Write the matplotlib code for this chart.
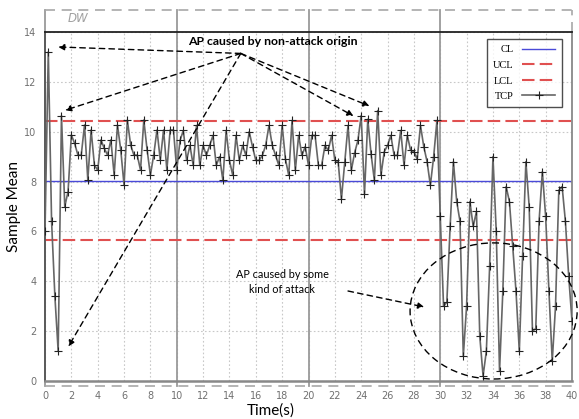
import numpy as np
import matplotlib.pyplot as plt
from matplotlib.patches import Ellipse

# TCP sample mean, one value every 0.25 s (0 .. 40 s)
tcp = [
    6.0, 13.2, 6.4, 3.4, 1.2, 10.65, 7.0, 7.6,
    9.87, 9.53, 9.06, 9.06, 10.27, 8.06, 10.07, 8.66,
    8.46, 9.67, 9.33, 9.06, 9.67, 8.26, 10.27, 9.27,
    7.86, 10.47, 9.47, 9.06, 9.06, 8.46, 10.47, 9.27,
    8.26, 9.06, 10.07, 8.86, 10.07, 8.46, 10.07, 10.07,
    8.46, 9.65, 10.05, 8.85, 9.45, 8.65, 10.25, 8.65,
    9.45, 9.05, 9.45, 9.85, 8.65, 9.0, 8.05, 10.05,
    8.85, 8.25, 9.85, 8.85, 9.45, 9.05, 10.0, 9.4,
    8.85, 8.85, 9.05, 9.45, 10.25, 9.45, 9.05, 8.65,
    10.25, 8.9, 8.25, 10.45, 8.45, 9.85, 9.05, 9.4,
    8.65, 9.85, 9.85, 8.65, 8.65, 9.45, 9.25, 9.85,
    8.85, 8.8, 7.3, 8.8, 10.25, 8.45, 9.15, 9.65,
    10.65, 7.5, 10.5, 9.1, 8.05, 10.85, 8.25, 9.2,
    9.45, 9.85, 9.05, 9.05, 10.05, 8.65, 9.85, 9.25,
    9.2, 8.9, 10.25, 9.4, 8.8, 7.85, 9.0, 10.45,
    6.6, 3.0, 3.16, 6.2, 8.8, 7.2, 6.4, 1.0,
    3.0, 7.2, 6.2, 6.8, 1.8, 0.2, 1.2, 4.6,
    9.0, 6.0, 0.4, 3.6, 7.8, 7.2, 5.4, 3.6,
    1.2, 5.0, 8.8, 7.0, 2.0, 2.1, 6.4, 8.4,
    6.6, 3.6, 0.8, 3.0, 7.65, 7.8, 6.4, 4.2,
    2.4,
]
dt = 0.25
cl = 8.03
ucl = 10.42
lcl = 5.64

x_ticks = list(range(0, 41, 2))
y_ticks = list(range(0, 15, 2))
window_edges = [10, 20, 30]

W, H = 579, 419
fig = plt.figure(figsize=(W / 100, H / 100), dpi=100)
ax = fig.add_axes([45 / W, 1 - 381 / H, 527 / W, 349 / H])

t = np.arange(len(tcp)) * dt

# grid
for xv in x_ticks:
    ax.axvline(xv, color='#c8c8c8', lw=0.8, ls=(0, (1.5, 2)), zorder=0)
for yv in y_ticks:
    ax.axhline(yv, color='#c8c8c8', lw=0.8, ls=(0, (1.5, 2)), zorder=0)

# detection window frame (DW)
top_f = (381 - 10) / 349
bot_f = -5 / 349
for xv in window_edges:
    ax.axvline(xv, ymin=bot_f, ymax=top_f, color='#9a9a9a', lw=1.3, clip_on=False, zorder=1)
ax.plot([0, 0], [bot_f, top_f], transform=ax.transAxes, color='#9a9a9a', lw=1.3, clip_on=False)
ax.plot([0, 1], [top_f, top_f], transform=ax.transAxes, color='#a8a8a8', lw=1.2,
        ls=(0, (6, 4)), clip_on=False)
ax.plot([1, 1], [1, top_f], transform=ax.transAxes, color='#a8a8a8', lw=1.2,
        ls=(0, (6, 4)), clip_on=False)
ax.plot([0, 1], [bot_f, bot_f], transform=ax.transAxes, color='#a8a8a8', lw=1.2,
        ls=(0, (6, 4)), clip_on=False)
fig.text(68 / W, 1 - 19 / H, 'DW', color='#a0a0a0', style='italic', fontsize=8.5,
         va='center', ha='left')

# control limits
ax.axhline(cl, color='#4a4ad8', lw=1.0, label='CL', zorder=2)
ax.axhline(ucl, color='#e05050', lw=1.5, ls=(0, (6, 2.5)), label='UCL', zorder=2)
ax.axhline(lcl, color='#e05050', lw=1.5, ls=(0, (6, 2.5)), label='LCL', zorder=2)
ax.plot(t, tcp, color='#666666', lw=1.2, marker='+', ms=5.5, mew=0.8, mec='#222222',
        label='TCP', zorder=3)

ax.set_xlim(0, 40)
ax.set_ylim(0, 14)
ax.set_xticks(x_ticks)
ax.set_yticks(y_ticks)
ax.tick_params(length=0, labelsize=7, colors='#707070')
ax.tick_params(axis='x', pad=7)
ax.tick_params(axis='y', pad=6)

ax.spines['top'].set_color('#222222')
ax.spines['top'].set_linewidth(1.3)
ax.spines['left'].set_color('#555555')
ax.spines['left'].set_linewidth(1.3)
ax.spines['right'].set_color('#888888')
ax.spines['right'].set_linewidth(1.3)
ax.spines['bottom'].set_color('#888888')
ax.spines['bottom'].set_linewidth(1.8)

fig.text(14 / W, 1 - 207 / H, 'Sample Mean', rotation=90, family='Lato',
         fontsize=11, va='center', ha='center')
fig.text(271 / W, 1 - 411 / H, 'Time(s)', family='Lato', fontsize=11,
         va='center', ha='center')

leg = ax.legend(loc='upper right', bbox_to_anchor=(0.99, 0.995), markerfirst=False,
                prop={'family': 'Liberation Serif', 'size': 7.5}, frameon=True,
                fancybox=False, edgecolor='#222222', handlelength=3.2,
                labelspacing=0.6, borderpad=0.6, numpoints=1)
leg.get_frame().set_linewidth(1.0)

# annotations
dash = (0, (4, 3))
ax.text(17.27, 13.61, 'AP caused by non-attack origin', ha='center', va='center',
        fontweight='bold', fontsize=8.8, family='Lato')
origin = (14.86, 13.14)
for tip in [(1.0, 13.4), (1.52, 10.86), (1.77, 1.38), (23.41, 10.63), (24.62, 11.03)]:
    ax.annotate('', xy=tip, xytext=origin,
                arrowprops=dict(arrowstyle='-|>', ls=dash, lw=1.0, color='black',
                                mutation_scale=9, shrinkA=0, shrinkB=0))

ax.text(18.0, 3.97, 'AP caused by some\nkind of attack', ha='center', va='center',
        fontsize=7.8, family='Lato', linespacing=1.45)
ax.annotate('', xy=(28.78, 2.97), xytext=(23.0, 3.61),
            arrowprops=dict(arrowstyle='-|>', ls=dash, lw=1.0, color='black',
                            mutation_scale=9, shrinkA=0, shrinkB=0))
ax.add_patch(Ellipse((34.05, 2.81), 12.68, 5.46, fill=False, ls=(0, (5, 3)), lw=1.0,
                     ec='black', clip_on=False, zorder=4))

fig.savefig('out.png', dpi=100)
